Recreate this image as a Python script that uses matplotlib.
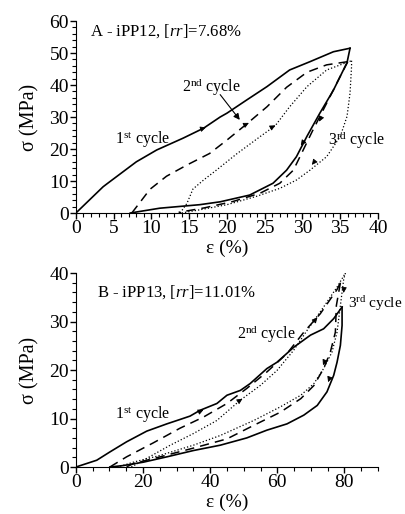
import numpy as np
import matplotlib
matplotlib.use("Agg")
import matplotlib.pyplot as plt
from matplotlib.ticker import MultipleLocator

plt.rcParams['font.family'] = ['Liberation Serif', 'DejaVu Serif']
plt.rcParams['mathtext.fontset'] = 'custom'
plt.rcParams['mathtext.rm'] = 'Liberation Serif'
plt.rcParams['mathtext.it'] = 'Liberation Serif:italic'

# ---- panel A (iPP12) ----
a1_load_x = [0, 3.6, 4.1, 8.0, 10.7, 14.2, 16.9, 19.1, 20.0, 22.6, 25.3, 28.3, 31.0, 34.1, 36.3]
a1_load_y = [0, 8.2, 9.1, 16.0, 19.7, 23.4, 26.5, 30.0, 31.2, 35.3, 39.5, 44.7, 47.3, 50.4, 51.5]
a1_unl_x = [36.3, 35.9, 34.1, 32.3, 30.6, 29.2, 27.9, 26.1, 23.0, 19.1, 16.4, 11.1, 7.2]
a1_unl_y = [51.5, 47.0, 38.4, 31.2, 24.0, 17.6, 13.4, 9.3, 5.6, 3.5, 2.6, 1.5, 0.0]

a2_load_x = [7.4, 8.7, 9.8, 12.0, 14.7, 17.7, 20.0, 22.6, 25.3, 27.9, 30.6, 33.2, 36.0]
a2_load_y = [0.0, 4.0, 7.4, 11.5, 15.0, 18.6, 22.8, 27.8, 33.2, 39.3, 44.0, 46.3, 47.3]
a2_unl_x = [36.0, 35.0, 33.2, 31.4, 30.1, 28.8, 27.0, 24.4, 20.8, 17.0, 13.6]
a2_unl_y = [47.3, 42.7, 34.3, 26.0, 19.7, 13.4, 9.3, 6.2, 3.6, 1.6, 0.2]

a3_load_x = [13.8, 14.7, 15.5, 16.9, 18.6, 21.3, 24.4, 26.4, 28.3, 30.6, 33.2, 36.5]
a3_load_y = [0.0, 3.0, 7.5, 10.3, 13.4, 18.5, 23.9, 27.3, 33.2, 39.5, 44.7, 47.6]
a3_unl_x = [36.5, 36.5, 36.3, 35.9, 35.0, 33.2, 31.0, 29.2, 27.0, 23.9, 20.0, 16.4, 14.0]
a3_unl_y = [47.6, 45.8, 37.5, 30.2, 23.9, 17.6, 13.4, 10.3, 7.7, 5.2, 2.6, 1.0, 0.0]

# ---- panel B (iPP13) ----
b1_load_x = [0, 6.2, 10.1, 15.1, 21.1, 27.1, 31.0, 34.0, 37.0, 42.0, 45.0, 49.0, 51.9, 56.9, 59.9, 64.9, 69.9, 73.8, 76.8, 79.3]
b1_load_y = [0, 1.4, 3.1, 5.2, 7.4, 8.9, 9.8, 10.5, 11.7, 13.1, 14.8, 15.8, 17.2, 20.3, 21.6, 24.7, 27.2, 28.5, 30.6, 33.0]
b1_unl_x = [79.3, 79.3, 78.8, 77.8, 76.8, 74.8, 71.9, 67.9, 62.9, 56.9, 50.9, 43.0, 35.0, 27.1, 20.1, 14.1, 10.1]
b1_unl_y = [33.0, 29.2, 25.1, 21.6, 18.9, 15.5, 12.7, 10.7, 8.9, 7.6, 6.0, 4.5, 3.4, 2.1, 1.0, 0.3, 0.0]

b2_load_x = [10.1, 15.1, 23.1, 31.0, 38.0, 45.0, 50.9, 56.9, 62.9, 67.9, 72.8, 77.8, 78.8]
b2_load_y = [0.0, 2.1, 5.0, 8.0, 10.3, 13.1, 16.2, 19.6, 23.4, 27.8, 31.6, 36.6, 38.0]
b2_unl_x = [78.8, 77.6, 77.3, 75.8, 73.8, 70.9, 67.0, 60.9, 53.0, 45.0, 35.0, 25.1, 17.1, 15.0]
b2_unl_y = [38.0, 33.3, 27.8, 23.7, 20.3, 16.8, 14.1, 11.3, 8.6, 5.8, 3.9, 2.1, 0.7, 0.0]

b3_load_x = [16.5, 20.1, 28.1, 35.0, 42.0, 49.0, 54.9, 59.9, 64.9, 68.9, 73.8, 77.8, 80.3]
b3_load_y = [0.0, 1.4, 4.5, 6.9, 9.6, 13.8, 16.8, 19.9, 24.1, 28.2, 33.0, 37.1, 40.0]
b3_unl_x = [80.3, 79.8, 78.8, 77.8, 76.3, 73.8, 70.9, 67.0, 60.9, 53.0, 43.0, 35.0, 25.1, 17.1, 12.5]
b3_unl_y = [40.0, 38.8, 33.3, 27.8, 23.7, 20.3, 17.2, 14.8, 12.4, 9.6, 6.5, 4.5, 2.4, 1.0, 0.0]

# arrow heads: (x, y, dx, dy) in data units
a_arrows = [(16.9, 26.5, 1.0, 0.8), (22.6, 27.8, 1.0, 1.2), (26.1, 27.0, 1.0, 1.3),
            (29.9, 21.5, -0.4, -1.3), (32.3, 29.0, -0.3, -1.5), (31.4, 15.5, -0.5, -1.5)]
b_arrows = [(37.4, 11.6, 2.0, 0.6), (49.0, 13.8, 2.0, 0.9), (71.5, 30.5, 1.5, 1.2),
            (73.8, 21.3, -0.6, -1.0), (75.3, 17.8, -0.5, -1.0), (79.8, 36.2, -0.1, -1.0)]

fig = plt.figure(figsize=(4.06, 5.14), dpi=100)
axA = fig.add_axes([0.187, 0.5856, 0.744, 0.3735])
axB = fig.add_axes([0.187, 0.0914, 0.744, 0.3774])

def draw(ax, c1, c2, c3):
    kw = dict(color='black')
    ax.plot(c1[0], c1[1], '-', lw=1.2, **kw)
    ax.plot(c1[2], c1[3], '-', lw=1.2, **kw)
    ax.plot(c2[0], c2[1], '--', lw=1.1, dashes=(6, 4), **kw)
    ax.plot(c2[2], c2[3], '--', lw=1.1, dashes=(6, 4), **kw)
    ax.plot(c3[0], c3[1], ':', lw=0.9, **kw)
    ax.plot(c3[2], c3[3], ':', lw=0.9, **kw)

def arrows(ax, lst):
    for x, y, dx, dy in lst:
        ax.annotate('', xy=(x + dx * 0.3, y + dy * 0.3), xytext=(x - dx * 0.3, y - dy * 0.3),
                    arrowprops=dict(arrowstyle='-|>', color='black', lw=0.6,
                                    mutation_scale=8, shrinkA=0, shrinkB=0))

def style(ax, xmax, ymax, xmaj, xmin, ymaj, ymin):
    ax.set_xlim(0, xmax)
    ax.set_ylim(0, ymax)
    ax.spines['top'].set_visible(False)
    ax.spines['right'].set_visible(False)
    ax.xaxis.set_major_locator(MultipleLocator(xmaj))
    ax.xaxis.set_minor_locator(MultipleLocator(xmin))
    ax.yaxis.set_major_locator(MultipleLocator(ymaj))
    ax.yaxis.set_minor_locator(MultipleLocator(ymin))
    ax.tick_params(which='major', direction='out', length=4, width=1, labelsize=14, pad=1)
    ax.tick_params(which='minor', direction='out', length=3, width=0.8)
    ax.set_xlabel('ε (%)', fontsize=14, labelpad=2)
    ax.set_ylabel('σ (MPa)', fontsize=14.5, labelpad=7)

draw(axA, (a1_load_x, a1_load_y, a1_unl_x, a1_unl_y),
     (a2_load_x, a2_load_y, a2_unl_x, a2_unl_y),
     (a3_load_x, a3_load_y, a3_unl_x, a3_unl_y))
arrows(axA, a_arrows)
style(axA, 40, 60, 5, 1, 10, 2)
axA.text(1.85, 56.7, 'A - iPP12, [$\\it{rr}$]=7.68%', fontsize=12, va='center')
axA.text(5.2, 22.8, '1$^{\\mathrm{st}}$ cycle', fontsize=11.5, va='center')
axA.text(14.0, 39.5, '2$^{\\mathrm{nd}}$ cycle', fontsize=11.5, va='center')
axA.text(33.4, 22.8, '3$^{\\mathrm{rd}}$ cycle', fontsize=11.5, va='center', clip_on=False)
axA.annotate('', xy=(21.7, 29.1), xytext=(19.1, 37.0),
             arrowprops=dict(arrowstyle='-|>', color='black', lw=0.8, mutation_scale=9,
                             shrinkA=0, shrinkB=0))

draw(axB, (b1_load_x, b1_load_y, b1_unl_x, b1_unl_y),
     (b2_load_x, b2_load_y, b2_unl_x, b2_unl_y),
     (b3_load_x, b3_load_y, b3_unl_x, b3_unl_y))
arrows(axB, b_arrows)
style(axB, 90, 40, 20, 5, 10, 2)
axB.text(6.2, 36.1, 'B - iPP13, [$\\it{rr}$]=11.01%', fontsize=12, va='center')
axB.text(11.6, 10.7, '1$^{\\mathrm{st}}$ cycle', fontsize=11.5, va='center')
axB.text(48.0, 27.5, '2$^{\\mathrm{nd}}$ cycle', fontsize=11.5, va='center')
axB.text(81.0, 33.7, '3$^{\\mathrm{rd}}$ cycle', fontsize=11, va='center', clip_on=False)

fig.savefig('out.png', dpi=100)
